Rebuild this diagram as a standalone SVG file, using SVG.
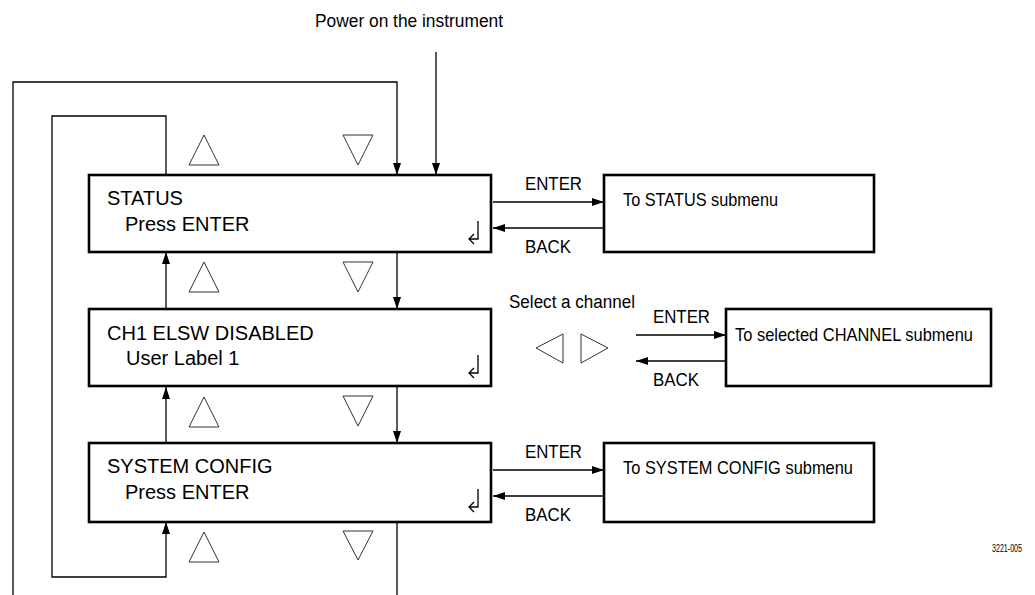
<svg xmlns="http://www.w3.org/2000/svg" width="1035" height="595" viewBox="0 0 1035 595">
<style>
.box{fill:#fff;stroke:#000;stroke-width:2.6}
.ln{fill:none;stroke:#000;stroke-width:1.3}
.tri{fill:none;stroke:#333;stroke-width:1}
.ent{fill:none;stroke:#000;stroke-width:1.3}
.bt{font-family:"Liberation Sans",Arial,sans-serif;font-size:20px;fill:#000}
.lb{font-family:"Liberation Sans",Arial,sans-serif;font-size:18px;fill:#000}
.st{font-family:"Liberation Sans",Arial,sans-serif;font-size:19px;fill:#000}
.sm{font-family:"Liberation Sans",Arial,sans-serif;font-size:10px;fill:#000}
</style>
<defs>
<marker id="ah" markerUnits="userSpaceOnUse" markerWidth="13" markerHeight="9" refX="12" refY="4" orient="auto">
<path d="M0,0 L12,4 L0,8 z" fill="#000"/>
</marker>
</defs>
<text class="lb" x="315" y="27" textLength="188" lengthAdjust="spacingAndGlyphs">Power on the instrument</text>
<g id="connectors">
<line class="ln" x1="436" y1="52" x2="436" y2="175" marker-end="url(#ah)"/>
<polyline class="ln" points="13,595 13,82 397,82 397,175" marker-end="url(#ah)"/>
<polyline class="ln" points="166,175 166,116 52,116 52,577 166,577 166,522" marker-end="url(#ah)"/>
<line class="ln" x1="166" y1="309" x2="166" y2="252" marker-end="url(#ah)"/>
<line class="ln" x1="166" y1="443" x2="166" y2="387" marker-end="url(#ah)"/>
<line class="ln" x1="397" y1="252" x2="397" y2="309" marker-end="url(#ah)"/>
<line class="ln" x1="397" y1="387" x2="397" y2="443" marker-end="url(#ah)"/>
<line class="ln" x1="397" y1="522" x2="397" y2="595"/>
<line class="ln" x1="493" y1="202" x2="604" y2="202" marker-end="url(#ah)"/>
<line class="ln" x1="604" y1="228" x2="493" y2="228" marker-end="url(#ah)"/>
<line class="ln" x1="636" y1="335" x2="726" y2="335" marker-end="url(#ah)"/>
<line class="ln" x1="726" y1="361" x2="636" y2="361" marker-end="url(#ah)"/>
<line class="ln" x1="493" y1="470" x2="604" y2="470" marker-end="url(#ah)"/>
<line class="ln" x1="604" y1="496" x2="493" y2="496" marker-end="url(#ah)"/>
</g>
<g id="labels">
<text class="lb" x="525" y="190" textLength="57" lengthAdjust="spacingAndGlyphs">ENTER</text>
<text class="lb" x="525" y="253" textLength="46" lengthAdjust="spacingAndGlyphs">BACK</text>
<text class="lb" x="653" y="323" textLength="57" lengthAdjust="spacingAndGlyphs">ENTER</text>
<text class="lb" x="653" y="386" textLength="46" lengthAdjust="spacingAndGlyphs">BACK</text>
<text class="lb" x="525" y="458" textLength="57" lengthAdjust="spacingAndGlyphs">ENTER</text>
<text class="lb" x="525" y="521" textLength="46" lengthAdjust="spacingAndGlyphs">BACK</text>
<text class="lb" x="509" y="308" textLength="126" lengthAdjust="spacingAndGlyphs">Select a channel</text>
<text class="sm" x="992" y="552" textLength="30" lengthAdjust="spacingAndGlyphs">3221-005</text>
</g>
<g id="nav-triangles">
<polygon class="tri" points="189,165 219,165 204,135"/>
<polygon class="tri" points="343,135 373,135 358,165"/>
<polygon class="tri" points="189,292 219,292 204,262"/>
<polygon class="tri" points="343,262 373,262 358,292"/>
<polygon class="tri" points="189,427 219,427 204,397"/>
<polygon class="tri" points="343,396 373,396 358,426"/>
<polygon class="tri" points="189,562 219,562 204,532"/>
<polygon class="tri" points="343,531 373,531 358,560"/>
<polygon class="tri" points="536,348 563,334 563,363"/>
<polygon class="tri" points="581,334 581,363 608,348"/>
</g>
<g id="status">
<rect class="box" x="89" y="175" width="402" height="77"/>
<text class="bt" x="107" y="205">STATUS</text>
<text class="bt" x="125" y="231">Press ENTER</text>
<path class="ent" d="M478,221 V239 H469 M474,234 L469,239 L474,244"/>
</g>
<g id="channel">
<rect class="box" x="89" y="309" width="402" height="77"/>
<text class="bt" x="107" y="340">CH1 ELSW DISABLED</text>
<text class="bt" x="126" y="365">User Label 1</text>
<path class="ent" d="M478,355 V373 H469 M474,368 L469,373 L474,378"/>
</g>
<g id="sysconfig">
<rect class="box" x="89" y="443" width="402" height="79"/>
<text class="bt" x="107" y="473">SYSTEM CONFIG</text>
<text class="bt" x="125" y="499">Press ENTER</text>
<path class="ent" d="M478,489 V507 H469 M474,502 L469,507 L474,512"/>
</g>
<g id="status-sub">
<rect class="box" x="604" y="175" width="270" height="77"/>
<text class="st" x="623" y="206" textLength="155" lengthAdjust="spacingAndGlyphs">To STATUS submenu</text>
</g>
<g id="channel-sub">
<rect class="box" x="726" y="309" width="265" height="77"/>
<text class="st" x="735" y="341" textLength="238" lengthAdjust="spacingAndGlyphs">To selected CHANNEL submenu</text>
</g>
<g id="sysconfig-sub">
<rect class="box" x="604" y="443" width="270" height="79"/>
<text class="st" x="623" y="474" textLength="230" lengthAdjust="spacingAndGlyphs">To SYSTEM CONFIG submenu</text>
</g>
</svg>
